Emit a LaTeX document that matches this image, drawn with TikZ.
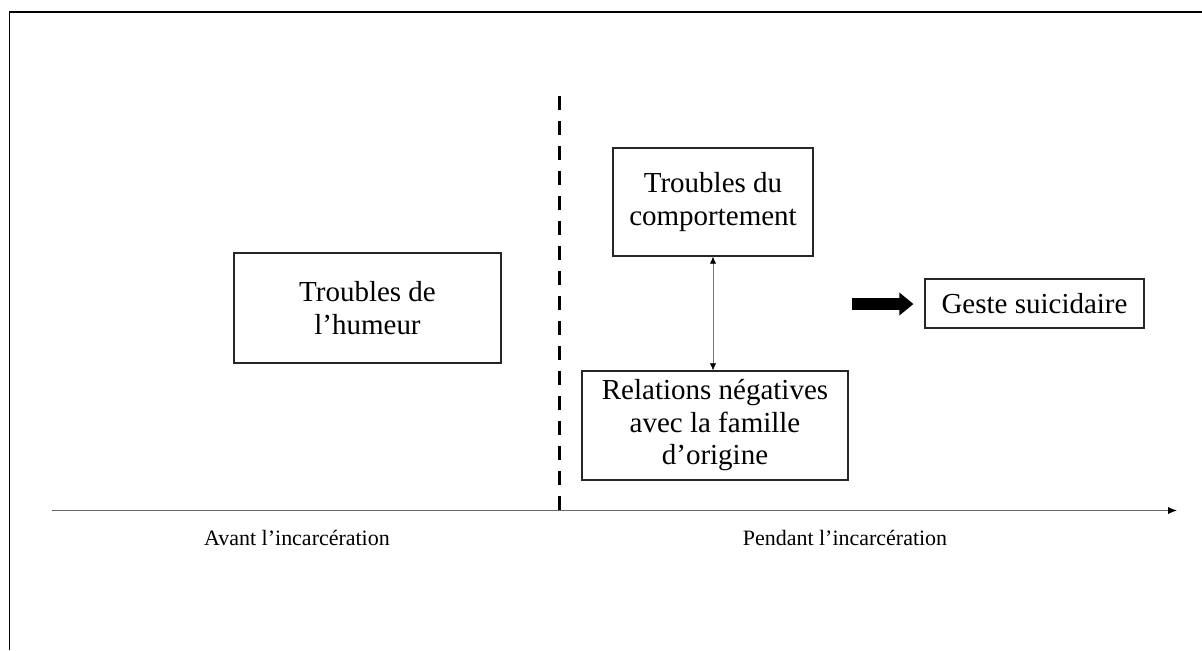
\documentclass[tikz,border=0pt]{standalone}
\usepackage{fontspec}
\setmainfont{Liberation Serif}
\usetikzlibrary{arrows.meta}

\begin{document}
\begin{tikzpicture}[x=0.02cm, y=-0.02cm,
    boite/.style={draw=black!85, line width=0.7pt, align=center, inner sep=0pt,
      font=\fontsize{16.5}{18.5}\selectfont},
    periode/.style={font=\fontsize{12.5}{15}\selectfont}]

  \useasboundingbox (0,0) rectangle (1202,650);

  % cadre
  \draw[line width=0.04cm] (9.5,650) -- (9.5,11.5) -- (1202,11.5);

  % boites
  \draw (367.5,308) node[boite, minimum width=5.34cm, minimum height=2.2cm] (humeur) {Troubles de\\l’humeur};
  \draw (713,202)   node[boite, minimum width=4cm, minimum height=2.16cm] (comport) {Troubles du\\comportement};
  \draw (715,425.5) node[boite, minimum width=5.32cm, minimum height=2.18cm] (famille) {Relations négatives\\avec la famille\\d’origine};
  \draw (1034.5,303.5) node[boite, minimum width=4.38cm, minimum height=0.98cm] (geste) {Geste suicidaire};

  % axe du temps
  \coordinate (debut) at (52,510.5);
  \coordinate (fin) at (1177,510.5);
  \coordinate (haut) at (559.5,96);
  \coordinate (bas) at (559.5,510);
  \draw (297,538) node[periode] (avant) {Avant l’incarcération};
  \draw (845,538) node[periode] (pendant) {Pendant l’incarcération};

  \draw[black!60, line width=0.6pt, -{Latex[black, length=5pt, width=4pt]}] (debut) -- (fin);
  \draw[line width=0.06cm, dash pattern=on 0.28cm off 0.22cm] (haut) -- (bas);

  % liens
  \draw[black!55, line width=0.4pt, {Latex[black, length=4pt, width=3.5pt]}-{Latex[black, length=4pt, width=3.5pt]}] (comport.south) -- (comport.south |- famille.north);

  \coordinate (fleche) at (852,304);
  \draw[line width=0.24cm, -{Triangle[length=0.28cm, width=0.44cm]}, shorten >=0.22cm] (fleche) -- (geste.west |- fleche);

\end{tikzpicture}
\end{document}
